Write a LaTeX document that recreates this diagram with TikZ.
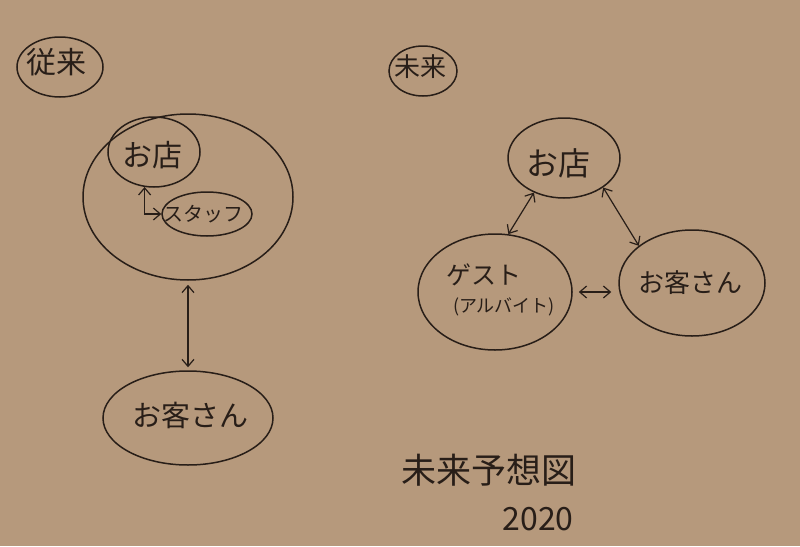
\documentclass[tikz,border=0pt]{standalone}
\usepackage{fontspec}
\newfontfamily\jp{Noto Sans CJK JP}
\usetikzlibrary{shapes.geometric,arrows.meta}
\definecolor{paper}{RGB}{182,153,124}
\definecolor{ink}{RGB}{40,30,24}
\begin{document}
\begin{tikzpicture}[x=1pt,y=-1pt,
 bubble/.style={draw=ink,line width=1.5pt,ellipse,inner sep=0pt},
 txt/.style={text=ink,inner sep=0pt},
 link/.style={draw=ink,line width=1.2pt,{Straight Barb[length=7pt,width=12pt]}-{Straight Barb[length=7pt,width=12pt]}}]
\fill[paper] (0,0) rectangle (800,546);
\useasboundingbox (0,0) rectangle (800,546);
% headings
\node[bubble,minimum width=86pt,minimum height=60pt] (oldb) at (60,67) {};
\node[txt,font=\jp\fontsize{30}{30}\selectfont] (oldt) at (57,62) {従来};
\node[bubble,minimum width=68pt,minimum height=50pt] (newb) at (423,71) {};
\node[txt,font=\jp\fontsize{26}{26}\selectfont] (newt) at (420,67) {未来};
% left: conventional
\node[bubble,minimum width=210pt,minimum height=166pt] (lgroup) at (188,197) {};
\node[bubble,minimum width=92pt,minimum height=70pt] (lshop) at (154,152) {};
\node[txt,font=\jp\fontsize{30}{30}\selectfont] (lshopt) at (152,155) {お店};
\node[bubble,minimum width=90pt,minimum height=44pt] (staff) at (207,214) {};
\node[txt,font=\jp\fontsize{20}{20}\selectfont] (stafft) at (203,214) {スタッフ};
\node[bubble,minimum width=170pt,minimum height=94pt] (lcust) at (188,418) {};
\node[txt,font=\jp\fontsize{29}{29}\selectfont] (lcustt) at (190,415) {お客さん};
\draw[link] (lshop.255) |- (staff.west);
\draw[link,shorten <=4pt,shorten >=3pt] (lgroup.south) -- (lcust.north);
% right: future
\node[bubble,minimum width=112pt,minimum height=80pt] (rshop) at (564,158) {};
\node[txt,font=\jp\fontsize{32}{32}\selectfont] (rshopt) at (558,163) {お店};
\node[bubble,minimum width=154pt,minimum height=116pt] (guest) at (495,292) {};
\node[txt,font=\jp\fontsize{25}{25}\selectfont] (guestt) at (484,275) {ゲスト};
\node[txt,font=\jp\fontsize{18}{18}\selectfont] (guests) at (504,307) {(アルバイト)};
\node[bubble,minimum width=146pt,minimum height=106pt] (rcust) at (692,283) {};
\node[txt,font=\jp\fontsize{26}{26}\selectfont] (rcustt) at (690,283) {お客さん};
\draw[link] (rshop.229) -- (guest.77);
\draw[link] (rshop.323) -- (rcust.145);
\draw[link,shorten <=6pt,shorten >=7pt] (guest.east) -- (guest.east -| rcust.west);
% title
\node[txt,font=\jp\fontsize{35}{35}\selectfont] (title) at (489,470) {未来予想図};
\node[txt,font=\jp\fontsize{32}{32}\selectfont] (year) at (538,519) {2020};
\end{tikzpicture}
\end{document}
